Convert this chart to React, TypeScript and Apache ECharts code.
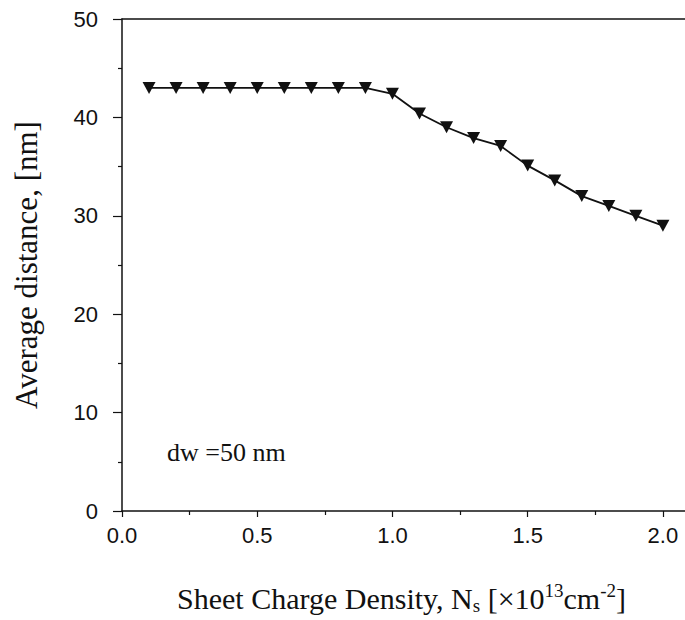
import React, { useEffect, useRef } from "react";
import * as echarts from "echarts";

const xValues = [0.1, 0.2, 0.3, 0.4, 0.5, 0.6, 0.7, 0.8, 0.9, 1.0, 1.1, 1.2, 1.3, 1.4, 1.5, 1.6, 1.7, 1.8, 1.9, 2.0];
const avgDistance = [43, 43, 43, 43, 43, 43, 43, 43, 43, 42.4, 40.4, 39.0, 37.9, 37.1, 35.1, 33.6, 32.0, 31.0, 30.0, 29.0];
const xTickLabels = ["0.0", "0.5", "1.0", "1.5", "2.0"];
const yTicks = [0, 10, 20, 30, 40, 50];
const annotation = "dw =50 nm";

export default function App() {
  const ref = useRef<HTMLDivElement>(null);
  useEffect(() => {
    if (!ref.current) return;
    const chart = echarts.init(ref.current, undefined, { renderer: "svg" });
    const serif = "Liberation Serif";
    const sans = "Liberation Sans";
    chart.setOption({
      animation: false,
      backgroundColor: "#fff",
      grid: { left: 122, top: 19, bottom: 109, right: 0, containLabel: false },
      xAxis: [
        {
          type: "value",
          min: 0,
          max: 2.2,
          interval: 0.5,
          position: "bottom",
          axisLine: { show: true, lineStyle: { color: "#111", width: 1.5 } },
          axisTick: { show: true, inside: false, length: 6, lineStyle: { color: "#111", width: 1.2 } },
          minorTick: { show: true, splitNumber: 2, length: 4, lineStyle: { color: "#111", width: 1.2 } },
          splitLine: { show: false },
          axisLabel: {
            margin: 13,
            fontFamily: sans,
            fontSize: 22,
            color: "#111",
            formatter: (v: number) => {
              const s = v.toFixed(1);
              return xTickLabels.includes(s) ? s : "";
            },
          },
          name: "{t|Sheet Charge Density, N}{sub|s}{t| [×10}{sup|13}{t|cm}{sup|-2}{t|]}",
          nameLocation: "middle",
          nameGap: 70,
          nameTextStyle: {
            fontFamily: serif,
            color: "#111",
            padding: [0, 36, 0, 0],
            rich: {
              t: { fontFamily: serif, fontSize: 30, color: "#111", lineHeight: 34 },
              sub: { fontFamily: serif, fontSize: 19, color: "#111", lineHeight: 16, verticalAlign: "bottom" },
              sup: { fontFamily: serif, fontSize: 19, color: "#111", lineHeight: 22, verticalAlign: "top" },
            },
          },
        },
        {
          type: "value",
          min: 0,
          max: 2.2,
          position: "top",
          axisLine: { show: true, lineStyle: { color: "#111", width: 1.5 } },
          axisTick: { show: false },
          axisLabel: { show: false },
          splitLine: { show: false },
        },
      ],
      yAxis: {
        type: "value",
        min: yTicks[0],
        max: yTicks[yTicks.length - 1],
        interval: 10,
        axisLine: { show: true, lineStyle: { color: "#111", width: 1.5 } },
        axisTick: { show: true, inside: false, length: 9, lineStyle: { color: "#111", width: 1.2 } },
        minorTick: { show: true, splitNumber: 2, length: 4, lineStyle: { color: "#111", width: 1.2 } },
        splitLine: { show: false },
        axisLabel: { margin: 24, fontFamily: sans, fontSize: 22, color: "#111" },
        name: "Average distance, [nm]",
        nameLocation: "middle",
        nameRotate: 90,
        nameGap: 80,
        nameTextStyle: { fontFamily: serif, fontSize: 31, color: "#111" },
      },
      series: [
        {
          type: "line",
          data: xValues.map((x, i) => [x, avgDistance[i]]),
          symbol: "triangle",
          symbolRotate: 180,
          symbolSize: [13, 12],
          itemStyle: { color: "#111" },
          lineStyle: { color: "#111", width: 1.8 },
        },
      ],
      graphic: [
        {
          type: "text",
          left: 167,
          top: 439,
          style: { text: annotation, fontFamily: serif, fontSize: 26, fill: "#111" },
        },
      ],
    });
    return () => chart.dispose();
  }, []);
  return (
    <div style={{ position: "fixed", left: 0, top: 0, width: 685, height: 620, overflow: "hidden", background: "#fff" }}>
      <div ref={ref} style={{ width: 720, height: 620 }} />
    </div>
  );
}
